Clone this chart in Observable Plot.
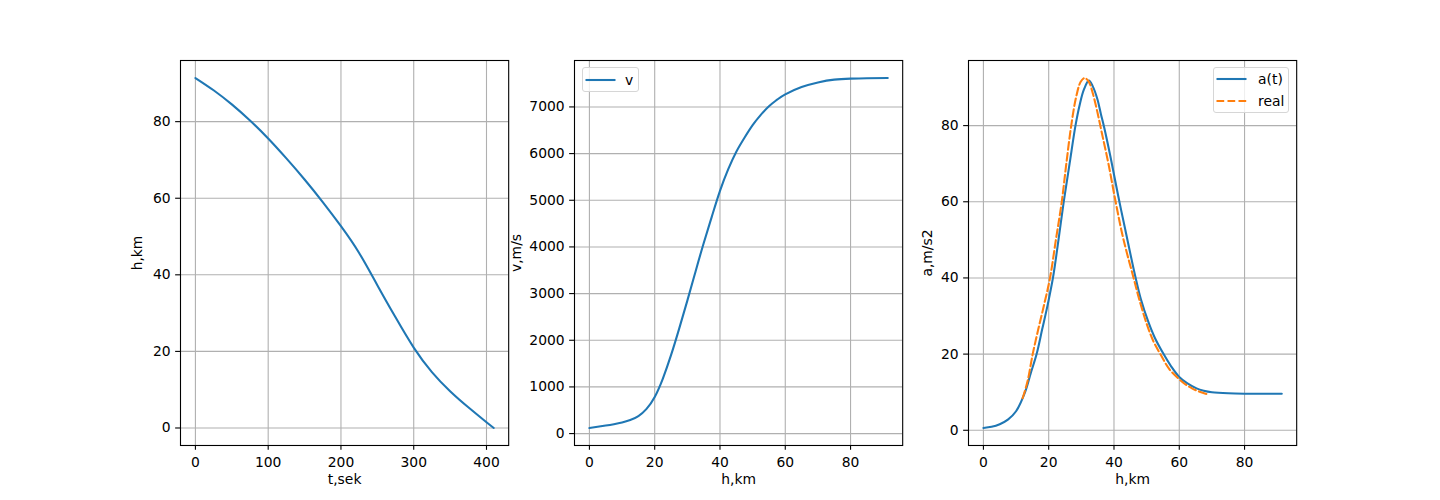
<!DOCTYPE html>
<html><head><meta charset="utf-8">
<script src="https://cdn.jsdelivr.net/npm/d3@7"></script>
<script src="https://cdn.jsdelivr.net/npm/@observablehq/plot@0.6"></script>
<style>
body{margin:0;background:#fff;}
#fig{position:relative;width:1440px;height:500px;font-family:"DejaVu Sans",sans-serif;overflow:hidden;}
.legend{position:absolute;box-sizing:border-box;border:1px solid #d6d6d6;border-radius:3px;background:rgba(255,255,255,0.8);font-size:13.9px;color:#000;}
.legend .row{position:absolute;left:0;right:0;height:20px;}
.legend .row svg{position:absolute;left:0;top:0;}
.legend .row span{position:absolute;top:1px;line-height:18px;}
</style></head><body><div id="fig"></div>
<script>
// Panel 1: altitude vs time
const tSek = [0, 25, 50, 75, 100, 125, 150, 175, 200, 225, 250, 275, 300, 325, 350, 375, 400, 410];
const hOfT = [91.4, 88.2, 84.5, 80.3, 75.6, 70.4, 64.9, 59.0, 52.7, 45.7, 37.3, 28.9, 21.0, 14.6, 9.6, 5.4, 1.5, 0];

// Panel 2: velocity vs altitude
const hV = [0, 2.5, 5, 7.5, 10, 12.5, 15, 17.5, 20, 22.5, 25, 27.5, 30, 32.5, 35, 37.5, 40, 42.5, 45, 47.5, 50, 52.5, 55, 57.5, 60, 65, 70, 75, 80, 85, 91.4];
const vMs = [120, 145, 172, 202, 238, 290, 375, 530, 785, 1180, 1680, 2250, 2850, 3470, 4080, 4650, 5200, 5660, 6040, 6340, 6610, 6830, 7015, 7155, 7270, 7425, 7525, 7585, 7607, 7616, 7620];

// Panel 3: acceleration vs altitude (model a(t))
const hA = [0, 2.5, 5, 7.5, 10, 12.7, 14.5, 16.3, 18, 19.7, 21.3, 23.0, 24.6, 26.4, 28.2, 29.5, 30.8, 32.3, 33.5, 34.9, 36.0, 37.0, 39.0, 41.3, 43.5, 46.5, 48.2, 50.5, 52.5, 55.2, 57.5, 60, 62.5, 65.3, 67.5, 70, 75, 80, 85, 91.4];
const aMs2 = [0.6, 0.9, 1.6, 2.8, 5.0, 9.9, 15, 20, 26.5, 33, 40, 50, 60, 70, 80, 85.5, 89.5, 91.8, 90.3, 87.0, 83.0, 79.5, 71.5, 61.5, 52.5, 40.5, 34.5, 28.5, 24.3, 20, 16.8, 14.0, 12.3, 11.0, 10.4, 10.0, 9.7, 9.6, 9.6, 9.6];

// Panel 3: acceleration vs altitude (real)
const hReal = [12.0, 13.5, 15.1, 16.8, 18.6, 20.4, 22.2, 24.0, 25.4, 26.9, 28.4, 29.8, 31.0, 32.3, 33.5, 34.8, 36.3, 38.3, 40.5, 42.8, 46.0, 47.7, 50.0, 52.0, 54.2, 57.0, 60.0, 62.0, 63.9, 66.0, 68.5];
const aReal = [8.4, 12.8, 20, 26.5, 33, 40, 50, 60, 70, 80, 87.5, 91.5, 92.5, 91.5, 88.5, 84, 78, 70, 60, 50.5, 40, 34.5, 28, 23.5, 20, 16, 13.4, 12, 11, 10.2, 9.5];

// Tick values
const ticksT = [0, 100, 200, 300, 400];
const ticksHkm = [0, 20, 40, 60, 80];
const ticksV = [0, 1000, 2000, 3000, 4000, 5000, 6000, 7000];
const ticksA = [0, 20, 40, 60, 80];

const blue = "#1f77b4", orange = "#ff7f0e";
const fig = document.getElementById("fig");

function pad(values) {
  const lo = d3.min(values.flat()), hi = d3.max(values.flat());
  const m = (hi - lo) * 0.05;
  return [lo - m, hi + m];
}

const AX_W = 328.2;
const ML = 100, MR = 30;

function panel({frameLeft, xDomain, yDomain, xTicks, yTicks, xLabel, yLabel, yLabelOffset, marks}) {
  const grid = {stroke: "#b0b0b0", strokeOpacity: 1, strokeWidth: 1.1};
  const p = Plot.plot({
    width: ML + AX_W + MR,
    height: 500,
    marginLeft: ML, marginRight: MR, marginTop: 60, marginBottom: 55,
    style: {fontFamily: "DejaVu Sans, sans-serif", fontSize: "13.9px", background: "transparent", overflow: "visible", color: "#000"},
    x: {domain: xDomain},
    y: {domain: yDomain},
    marks: [
      Plot.gridX(xTicks, grid),
      Plot.gridY(yTicks, grid),
      ...marks,
      Plot.frame({stroke: "#000", strokeWidth: 1.1}),
      Plot.axisX(xTicks, {tickSize: 4.86, tickPadding: 7, strokeWidth: 1.1, fontSize: 13.9, tickFormat: d => String(d),
        label: xLabel, labelAnchor: "center", labelOffset: 39, labelArrow: "none"}),
      Plot.axisY(yTicks, {tickSize: 4.86, tickPadding: 5, strokeWidth: 1.1, fontSize: 13.9, tickFormat: d => String(d),
        label: yLabel, labelAnchor: "center", labelOffset: yLabelOffset, labelArrow: "none"})
    ]
  });
  p.style.position = "absolute";
  p.style.left = (frameLeft - ML) + "px";
  p.style.top = "0px";
  p.style.maxWidth = "none";
  fig.append(p);
}

const smooth = {strokeWidth: 2.08, curve: "natural"};
const peaked = {strokeWidth: 2.08, curve: "catmull-rom"};

panel({
  frameLeft: 180,
  xDomain: pad([tSek]), yDomain: pad([hOfT]),
  xTicks: ticksT, yTicks: ticksHkm,
  xLabel: "t,sek", yLabel: "h,km", yLabelOffset: 48,
  marks: [Plot.line(tSek, {x: tSek, y: hOfT, stroke: blue, ...smooth})]
});

panel({
  frameLeft: 573.9,
  xDomain: pad([hV]), yDomain: pad([vMs]),
  xTicks: ticksHkm, yTicks: ticksV,
  xLabel: "h,km", yLabel: "v,m/s", yLabelOffset: 63,
  marks: [Plot.line(hV, {x: hV, y: vMs, stroke: blue, ...smooth})]
});

panel({
  frameLeft: 967.8,
  xDomain: pad([hA]), yDomain: pad([aMs2, aReal]),
  xTicks: ticksHkm, yTicks: ticksA,
  xLabel: "h,km", yLabel: "a,m/s2", yLabelOffset: 46,
  marks: [
    Plot.line(hA, {x: hA, y: aMs2, stroke: blue, ...peaked}),
    Plot.line(hReal, {x: hReal, y: aReal, stroke: orange, strokeDasharray: "7.7,3.3", ...peaked})
  ]
});

// Legends
function legend(left, top, width, height, items) {
  const box = document.createElement("div");
  box.className = "legend";
  Object.assign(box.style, {left: left + "px", top: top + "px", width: width + "px", height: height + "px"});
  items.forEach((it) => {
    const row = document.createElement("div");
    row.className = "row";
    row.style.top = (it.rowTop) + "px";
    row.innerHTML = `<svg width="40" height="20"><line x1="${it.x0}" x2="${it.x0 + 30}" y1="10" y2="10" stroke="${it.color}" stroke-width="2.08" ${it.dash ? `stroke-dasharray="${it.dash}"` : ""}/></svg><span style="left:${it.textLeft}px">${it.label}</span>`;
    box.append(row);
  });
  fig.append(box);
}
legend(582, 67, 57, 25, [{label: "v", color: blue, x0: 2.5, textLeft: 42, rowTop: 1.5}]);
legend(1213, 67, 76, 46, [
  {label: "a(t)", color: blue, x0: 2.5, textLeft: 44, rowTop: 0.5},
  {label: "real", color: orange, x0: 2.5, dash: "7.7,3.3", textLeft: 44, rowTop: 22.5}
]);
</script></body></html>
